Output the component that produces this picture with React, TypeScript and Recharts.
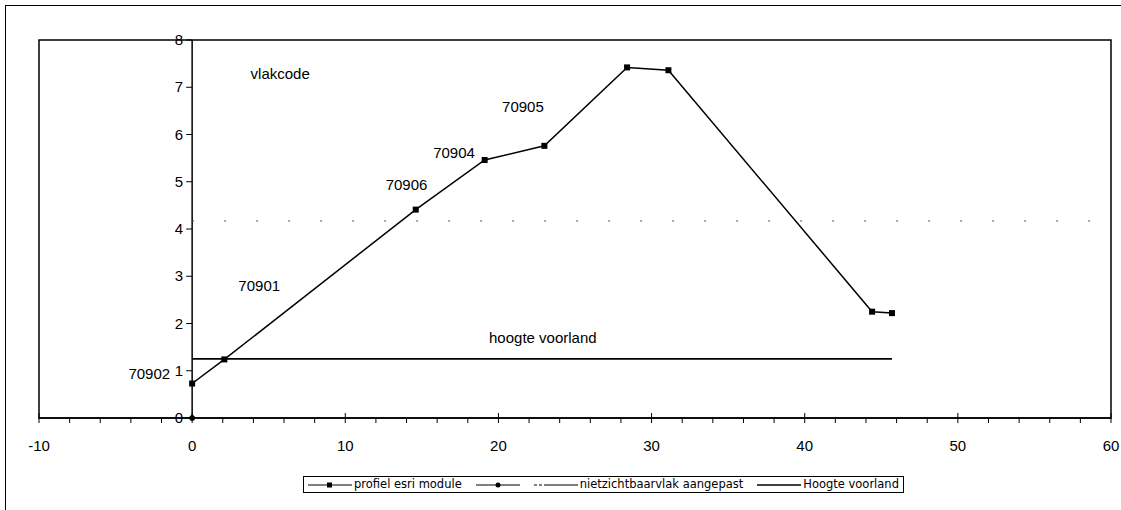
import React from 'react';
import { LineChart, Line, XAxis, YAxis, ReferenceLine, ReferenceArea, ReferenceDot, Legend } from 'recharts';

// profiel esri module
const profielX = [0, 2.1, 14.6, 19.1, 23.0, 28.4, 31.1, 44.4, 45.7];
const profielY = [0.73, 1.24, 4.41, 5.46, 5.76, 7.42, 7.36, 2.25, 2.22];
// unnamed marker series
const markerX = [0];
const markerY = [0];
// nietzichtbaarvlak aangepast
const zichtX = [0, 59];
const zichtY = [4.17, 4.17];
// Hoogte voorland
const voorlandX = [0, 45.7];
const voorlandY = [1.25, 1.25];

const xTicks = [-10, -8, -6, -4, -2, 0, 2, 4, 6, 8, 10, 12, 14, 16, 18, 20, 22, 24, 26, 28, 30, 32, 34, 36, 38, 40, 42, 44, 46, 48, 50, 52, 54, 56, 58, 60];
const yTicks = [0, 1, 2, 3, 4, 5, 6, 7, 8];

const noteText = ['vlakcode', '70901', '70906', '70904', '70905', '70902', 'hoogte voorland'];
const noteX = [5.75, 4.38, 14.0, 17.1, 21.6, -2.8, 22.9];
const noteY = [7.28, 2.81, 4.93, 5.61, 6.58, 0.93, 1.69];

const legendNames = ['profiel esri module', '', 'nietzichtbaarvlak aangepast', 'Hoogte voorland'];

const toPoints = (xs: number[], ys: number[]) => xs.map((x, i) => ({ x, y: ys[i] }));

const W = 1121;
const H = 510;
const Y_W = 1;
const M = { top: 40, right: 10, left: 38, bottom: 62 };
const X_MIN = -10;
const X_MAX = 60;
const FONT = '"Liberation Sans", Arial, sans-serif';
const plotLeft = M.left + Y_W;
const zeroX = plotLeft + ((0 - X_MIN) / (X_MAX - X_MIN)) * (W - plotLeft - M.right);

const XTick = (props: any) => {
  const { x, y, payload } = props;
  const major = payload.value % 10 === 0;
  return (
    <g>
      <line x1={x} x2={x} y1={major ? y - 5 : y} y2={y + 5} stroke="#000" />
      {major && (
        <text x={x} y={y + 33} textAnchor="middle" fontSize={15} fontFamily={FONT} fill="#000">
          {payload.value}
        </text>
      )}
    </g>
  );
};

const YTick = (props: any) => {
  const { y, payload } = props;
  return (
    <g>
      <line x1={zeroX - 6} x2={zeroX} y1={y} y2={y} stroke="#000" />
      <text x={zeroX - 9} y={y + 5} textAnchor="end" fontSize={15} fontFamily={FONT} fill="#000">
        {payload.value}
      </text>
    </g>
  );
};

const squareDot = (p: any) => (
  <rect key={`sq-${p.index}`} x={p.cx - 3} y={p.cy - 3} width={6} height={6} fill="#000" />
);

const LegendIcon = ({ i }: { i: number }) => {
  if (i === 2) {
    return (
      <svg width={44} height={8}>
        <line x1={0} x2={44} y1={4} y2={4} stroke="#000" strokeDasharray="3 2 3 2 34" />
      </svg>
    );
  }
  return (
    <svg width={44} height={8}>
      <line x1={0} x2={44} y1={4} y2={4} stroke="#000" strokeWidth={i === 3 ? 1.5 : 1} />
      {i === 0 && <rect x={19} y={1.5} width={5} height={5} fill="#000" />}
      {i === 1 && <circle cx={22} cy={4} r={2.5} fill="#000" />}
    </svg>
  );
};

const LegendBox = () => (
  <div
    style={{
      display: 'flex',
      alignItems: 'center',
      border: '1.5px solid #000',
      padding: '0px 4px',
      fontFamily: '"DejaVu Sans", sans-serif',
      fontSize: 11.5,
      lineHeight: '15px',
      background: '#fff',
      whiteSpace: 'nowrap',
    }}
  >
    {legendNames.map((n, i) => (
      <span key={i} style={{ display: 'flex', alignItems: 'center', marginRight: i === 3 ? 0 : 14 }}>
        <LegendIcon i={i} />
        {n && <span style={{ marginLeft: 2 }}>{n}</span>}
      </span>
    ))}
  </div>
);

export default function App() {
  return (
    <div style={{ position: 'absolute', left: 0, top: 0, width: W, height: H, overflow: 'hidden', background: '#fff' }}>
      <div
        style={{
          position: 'absolute',
          left: 5,
          top: 5,
          width: 1300,
          height: 700,
          borderLeft: '1.5px solid #000',
          borderTop: '1.5px solid #000',
        }}
      />
      <div style={{ position: 'absolute', left: 0, top: 0 }}>
        <LineChart width={W} height={H} margin={M}>
          <ReferenceArea x1={-10} x2={60} y1={0} y2={8} fill="none" stroke="#000" strokeWidth={1.5} ifOverflow="visible" />
          <XAxis
            type="number"
            dataKey="x"
            domain={[X_MIN, X_MAX]}
            ticks={xTicks}
            interval={0}
            height={30}
            tickSize={0}
            tickMargin={0}
            tickLine={false}
            axisLine={{ stroke: '#000', strokeWidth: 1.5 }}
            tick={<XTick />}
            allowDataOverflow
          />
          <YAxis
            type="number"
            dataKey="y"
            domain={[0, 8]}
            ticks={yTicks}
            interval={0}
            width={Y_W}
            tickSize={0}
            tickMargin={0}
            tickLine={false}
            axisLine={false}
            tick={<YTick />}
          />
          <ReferenceLine x={0} stroke="#000" strokeWidth={1.5} />
          <Line
            data={toPoints(zichtX, zichtY)}
            dataKey="y"
            name={legendNames[2]}
            stroke="#444"
            strokeWidth={1}
            strokeDasharray="2 30"
            dot={false}
            isAnimationActive={false}
          />
          <Line
            data={toPoints(voorlandX, voorlandY)}
            dataKey="y"
            name={legendNames[3]}
            stroke="#000"
            strokeWidth={1.8}
            dot={false}
            isAnimationActive={false}
          />
          <Line
            data={toPoints(profielX, profielY)}
            dataKey="y"
            name={legendNames[0]}
            stroke="#000"
            strokeWidth={1.5}
            dot={squareDot}
            isAnimationActive={false}
          />
          <Line
            data={toPoints(markerX, markerY)}
            dataKey="y"
            name="marker"
            stroke="#000"
            dot={{ r: 2.5, fill: '#000', stroke: '#000' }}
            isAnimationActive={false}
          />
          {noteText.map((t, i) => (
            <ReferenceDot
              key={t}
              x={noteX[i]}
              y={noteY[i]}
              r={0}
              fill="none"
              stroke="none"
              label={{ value: t, position: 'center', fontSize: 15, fontFamily: FONT, fill: '#000' }}
            />
          ))}
          <Legend
            layout="horizontal"
            verticalAlign="middle"
            align="center"
            content={() => <LegendBox />}
            wrapperStyle={{ position: 'absolute', left: 303, top: 476, width: 'auto', height: 'auto' }}
          />
        </LineChart>
      </div>
    </div>
  );
}
